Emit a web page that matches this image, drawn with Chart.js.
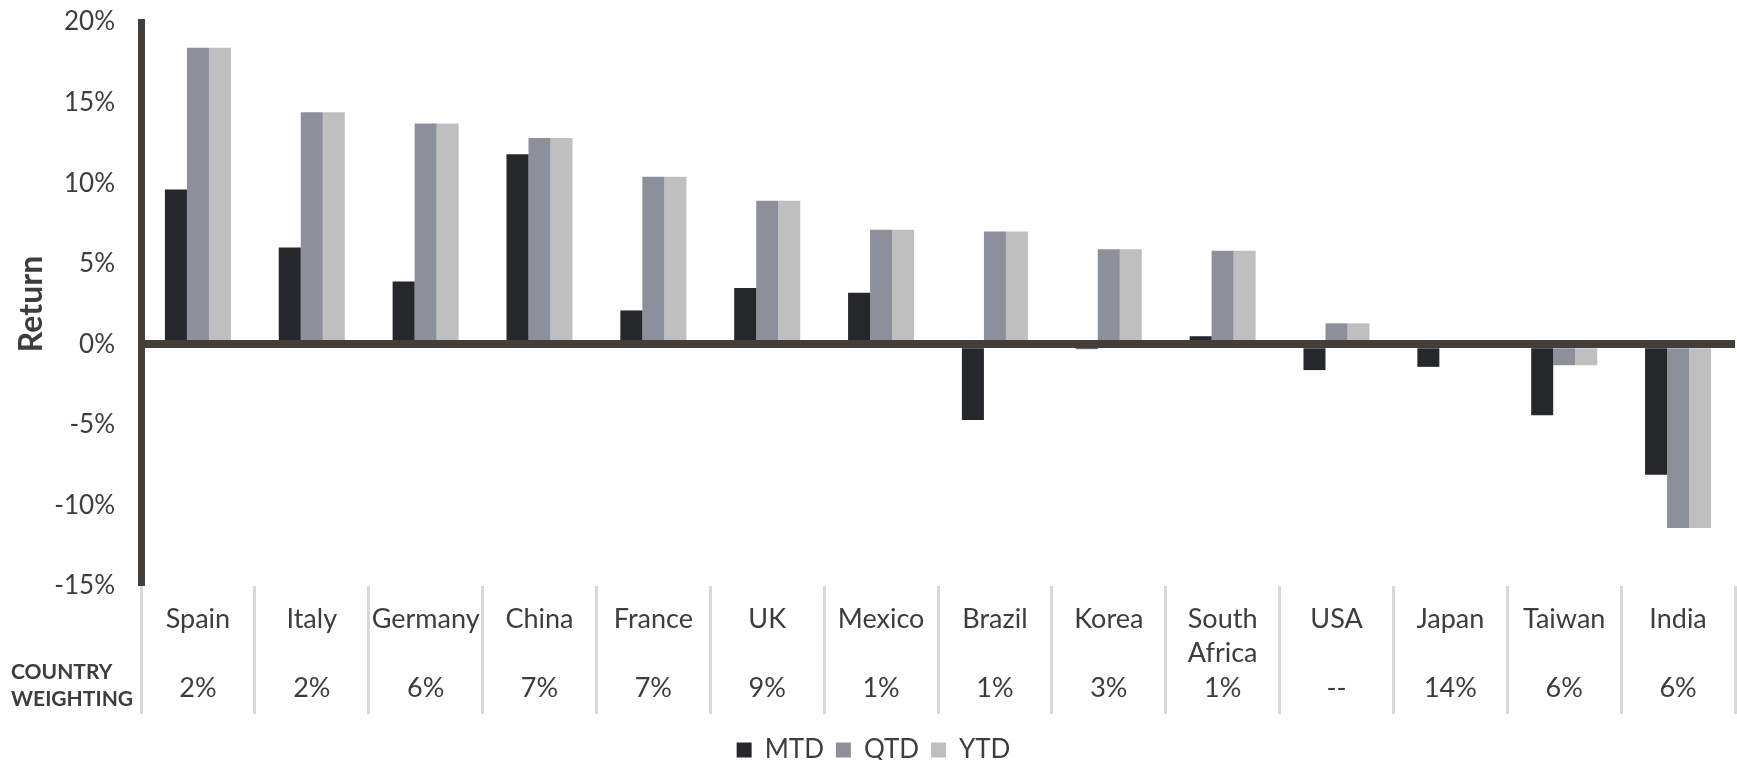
<!DOCTYPE html>
<html>
<head>
<meta charset="utf-8">
<script src="https://cdn.jsdelivr.net/npm/chart.js@4/dist/chart.umd.min.js"></script>
<style>
  html, body { margin: 0; padding: 0; background: #fff; }
  #wrap { width: 1737px; height: 760px; }
</style>
</head>
<body>
<div id="wrap"><canvas id="returnsChart" width="1737" height="760"></canvas></div>
<script>
// ========================================
// Data
// ========================================
const countries = ['Spain', 'Italy', 'Germany', 'China', 'France', 'UK', 'Mexico', 'Brazil', 'Korea', ['South', 'Africa'], 'USA', 'Japan', 'Taiwan', 'India'];
const weightings = ['2%', '2%', '6%', '7%', '7%', '9%', '1%', '1%', '3%', '1%', '--', '14%', '6%', '6%'];
const mtdValues = [9.6, 6.0, 3.9, 11.8, 2.1, 3.5, 3.2, -4.7, -0.3, 0.5, -1.6, -1.4, -4.4, -8.1];
const qtdValues = [18.4, 14.4, 13.7, 12.8, 10.4, 8.9, 7.1, 7.0, 5.9, 5.8, 1.3, 0, -1.3, -11.4];
const ytdValues = [18.4, 14.4, 13.7, 12.8, 10.4, 8.9, 7.1, 7.0, 5.9, 5.8, 1.3, 0, -1.3, -11.4];
const yTicks = [-15, -10, -5, 0, 5, 10, 15, 20];

const TEXT = '#3d3d3d';
const AXIS = '#423f3b';

// country name on the first row(s), weighting on the third row
const labels = countries.map((c, i) => {
  const name = Array.isArray(c) ? c : [c, ''];
  return [...name, weightings[i]];
});

// "COUNTRY WEIGHTING" row caption
const rowCaption = {
  id: 'rowCaption',
  afterDraw(chart) {
    const ctx = chart.ctx;
    ctx.save();
    ctx.font = 'bold 21px Lato';
    ctx.fillStyle = TEXT;
    ctx.textAlign = 'left';
    ctx.textBaseline = 'middle';
    ctx.fillText('COUNTRY', 11, 672);
    ctx.fillText('WEIGHTING', 11, 699);
    ctx.restore();
  }
};

new Chart(document.getElementById('returnsChart'), {
  type: 'bar',
  data: {
    labels: labels,
    datasets: [
      { label: 'MTD', data: mtdValues, backgroundColor: '#26272b' },
      { label: 'QTD', data: qtdValues, backgroundColor: '#8d909b' },
      { label: 'YTD', data: ytdValues, backgroundColor: '#bfbfbf' }
    ]
  },
  options: {
    responsive: false,
    animation: false,
    datasets: {
      bar: { categoryPercentage: 0.58, barPercentage: 1.0, borderWidth: 0 }
    },
    layout: { padding: { left: 12, right: 2, top: 22, bottom: -13 } },
    plugins: {
      tooltip: { enabled: false },
      legend: {
        position: 'bottom',
        labels: {
          boxWidth: 15,
          boxHeight: 15,
          padding: 12,
          color: TEXT,
          font: { family: 'Lato', size: 26 }
        }
      }
    },
    scales: {
      x: {
        grid: {
          display: true,
          offset: true,
          drawOnChartArea: false,
          drawTicks: true,
          tickLength: 128,
          color: '#d9d9d9',
          lineWidth: 3
        },
        border: { display: false },
        ticks: {
          autoSkip: false,
          maxRotation: 0,
          minRotation: 0,
          padding: -112,
          color: TEXT,
          font: { family: 'Lato', size: 27, lineHeight: '34.5px' }
        },
        afterFit(scale) { scale.height = 139; }
      },
      y: {
        min: -15,
        max: 20,
        afterBuildTicks(scale) { scale.ticks = yTicks.map(v => ({ value: v })); },
        afterFit(scale) {
          scale.width = 129;
          scale.paddingTop = 0;
          scale.paddingBottom = 0;
        },
        grid: {
          z: 1,
          drawTicks: false,
          color: ctx => (ctx.tick && ctx.tick.value === 0 ? AXIS : 'rgba(0,0,0,0)'),
          lineWidth: ctx => (ctx.tick && ctx.tick.value === 0 ? 8 : 0)
        },
        border: { display: true, color: AXIS, width: 7, z: 1 },
        ticks: {
          padding: 26,
          color: TEXT,
          font: { family: 'Lato', size: 26 },
          callback: v => v + '%'
        },
        title: {
          display: true,
          text: 'Return',
          color: TEXT,
          padding: { top: 0, bottom: 0 },
          font: { family: 'Lato', size: 32, weight: 'bold' }
        }
      }
    }
  },
  plugins: [rowCaption]
});
</script>
</body>
</html>
